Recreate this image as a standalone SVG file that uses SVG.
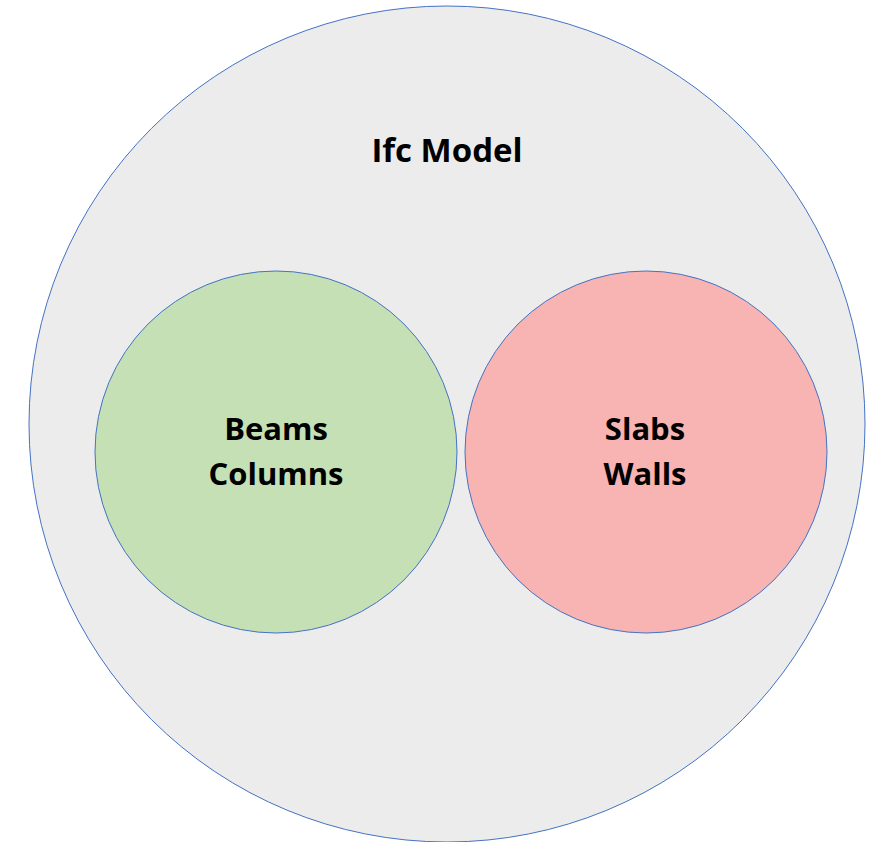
<svg xmlns="http://www.w3.org/2000/svg" width="871" height="842" viewBox="0 0 871 842">
  <style>
    .set { stroke: #4472c4; stroke-width: 1; }
    .label { font-family: "Open Sans", "Liberation Sans", sans-serif; font-weight: bold; fill: #000; text-anchor: middle; }
  </style>
  <rect width="871" height="842" fill="#ffffff"/>
  <g id="ifc-model">
    <circle class="set" cx="447" cy="424" r="418" fill="#ececec"/>
    <text class="label" x="447" y="162" font-size="33">Ifc Model</text>
  </g>
  <g id="beams-columns">
    <circle class="set" cx="276" cy="452" r="181" fill="#c5e0b4"/>
    <text class="label" x="276" y="440" font-size="31">Beams</text>
    <text class="label" x="276" y="485" font-size="31">Columns</text>
  </g>
  <g id="slabs-walls">
    <circle class="set" cx="646" cy="452" r="181" fill="#f8b3b3"/>
    <text class="label" x="645" y="440" font-size="31">Slabs</text>
    <text class="label" x="645" y="485" font-size="31">Walls</text>
  </g>
  <g id="connectors"/>
</svg>
